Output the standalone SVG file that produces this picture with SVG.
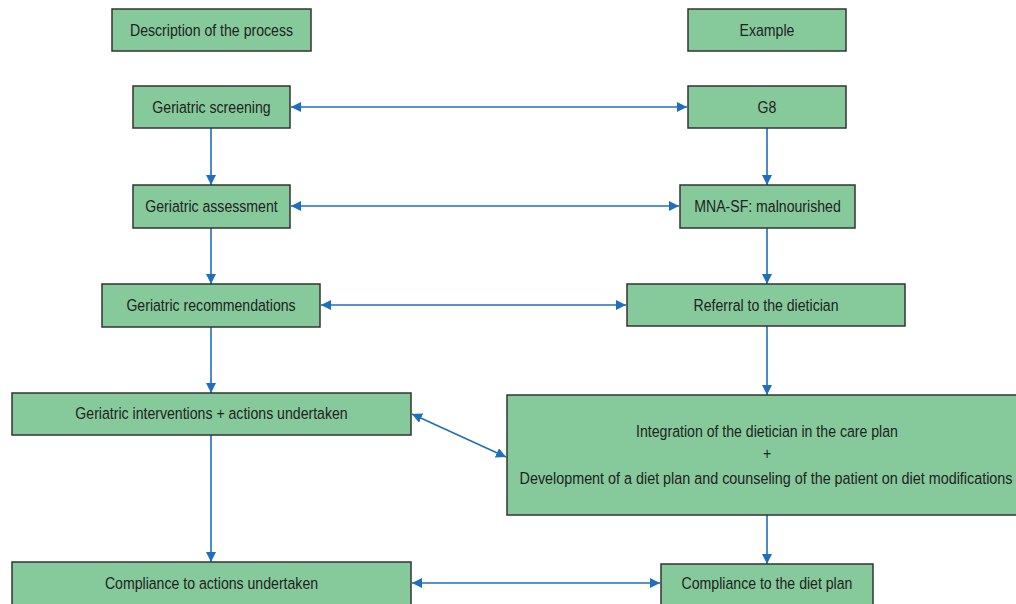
<svg xmlns="http://www.w3.org/2000/svg" width="1016" height="604" viewBox="0 0 1016 604">
<style>
.box{fill:#86ca9b;stroke:#333;stroke-width:1.5}
.t{font-family:"Liberation Sans",Arial,sans-serif;font-size:17px;fill:#222;text-anchor:middle}
.c{stroke:#1f6fbd;stroke-width:1.6;fill:none}
</style>
<defs>
<marker id="b" viewBox="0 0 10 10" refX="10" refY="5" markerWidth="10" markerHeight="10" orient="auto-start-reverse" markerUnits="userSpaceOnUse">
<path d="M0,0 L10,5 L0,10 z" fill="#1f6fbd"/>
</marker>
</defs>
<rect width="1016" height="604" fill="#fff"/>
<g id="connectors">
<line class="c" x1="291" y1="107" x2="687" y2="107" marker-start="url(#b)" marker-end="url(#b)"/>
<line class="c" x1="291" y1="206" x2="679" y2="206" marker-start="url(#b)" marker-end="url(#b)"/>
<line class="c" x1="321" y1="305" x2="626" y2="305" marker-start="url(#b)" marker-end="url(#b)"/>
<line class="c" x1="412" y1="414" x2="506" y2="457" marker-start="url(#b)" marker-end="url(#b)"/>
<line class="c" x1="412" y1="583" x2="660" y2="583" marker-start="url(#b)" marker-end="url(#b)"/>
<line class="c" x1="211" y1="128" x2="211" y2="185" marker-end="url(#b)"/>
<line class="c" x1="211" y1="228" x2="211" y2="284" marker-end="url(#b)"/>
<line class="c" x1="211" y1="327" x2="211" y2="393" marker-end="url(#b)"/>
<line class="c" x1="211" y1="435" x2="211" y2="562" marker-end="url(#b)"/>
<line class="c" x1="767" y1="128" x2="767" y2="185" marker-end="url(#b)"/>
<line class="c" x1="767" y1="228" x2="767" y2="284" marker-end="url(#b)"/>
<line class="c" x1="767" y1="326" x2="767" y2="395" marker-end="url(#b)"/>
<line class="c" x1="767" y1="515" x2="767" y2="564" marker-end="url(#b)"/>
</g>
<g id="n-desc"><rect class="box" x="112" y="9" width="199" height="42"/><text class="t" transform="translate(211.5,35.5) scale(0.83,1)">Description of the process</text></g>
<g id="n-example"><rect class="box" x="688" y="9" width="158" height="42"/><text class="t" transform="translate(767,35.5) scale(0.83,1)">Example</text></g>
<g id="n-screening"><rect class="box" x="133" y="86" width="157" height="42"/><text class="t" transform="translate(211.5,112.5) scale(0.83,1)">Geriatric screening</text></g>
<g id="n-g8"><rect class="box" x="688" y="86" width="158" height="42"/><text class="t" transform="translate(767,112.5) scale(0.83,1)">G8</text></g>
<g id="n-assessment"><rect class="box" x="133" y="185" width="157" height="43"/><text class="t" transform="translate(211.5,212) scale(0.83,1)">Geriatric assessment</text></g>
<g id="n-mna"><rect class="box" x="680" y="185" width="175" height="43"/><text class="t" transform="translate(767.5,212) scale(0.83,1)">MNA-SF: malnourished</text></g>
<g id="n-recommendations"><rect class="box" x="102" y="284" width="218" height="43"/><text class="t" transform="translate(211,311) scale(0.83,1)">Geriatric recommendations</text></g>
<g id="n-referral"><rect class="box" x="627" y="284" width="278" height="42"/><text class="t" transform="translate(766,310.5) scale(0.83,1)">Referral to the dietician</text></g>
<g id="n-interventions"><rect class="box" x="12" y="393" width="399" height="42"/><text class="t" transform="translate(211.5,419) scale(0.83,1)">Geriatric interventions + actions undertaken</text></g>
<g id="n-integration"><rect class="box" x="507" y="395" width="510" height="120"/><text class="t" transform="translate(767,437) scale(0.83,1)">Integration of the dietician in the care plan</text><text class="t" transform="translate(767,459) scale(0.83,1)">+</text><text class="t" transform="translate(766,484) scale(0.845,1)">Development of a diet plan and counseling of the patient on diet modifications</text></g>
<g id="n-compliance-actions"><rect class="box" x="12" y="562" width="399" height="46"/><text class="t" transform="translate(211.5,589) scale(0.83,1)">Compliance to actions undertaken</text></g>
<g id="n-compliance-diet"><rect class="box" x="661" y="564" width="212" height="44"/><text class="t" transform="translate(767,589) scale(0.83,1)">Compliance to the diet plan</text></g>
</svg>
